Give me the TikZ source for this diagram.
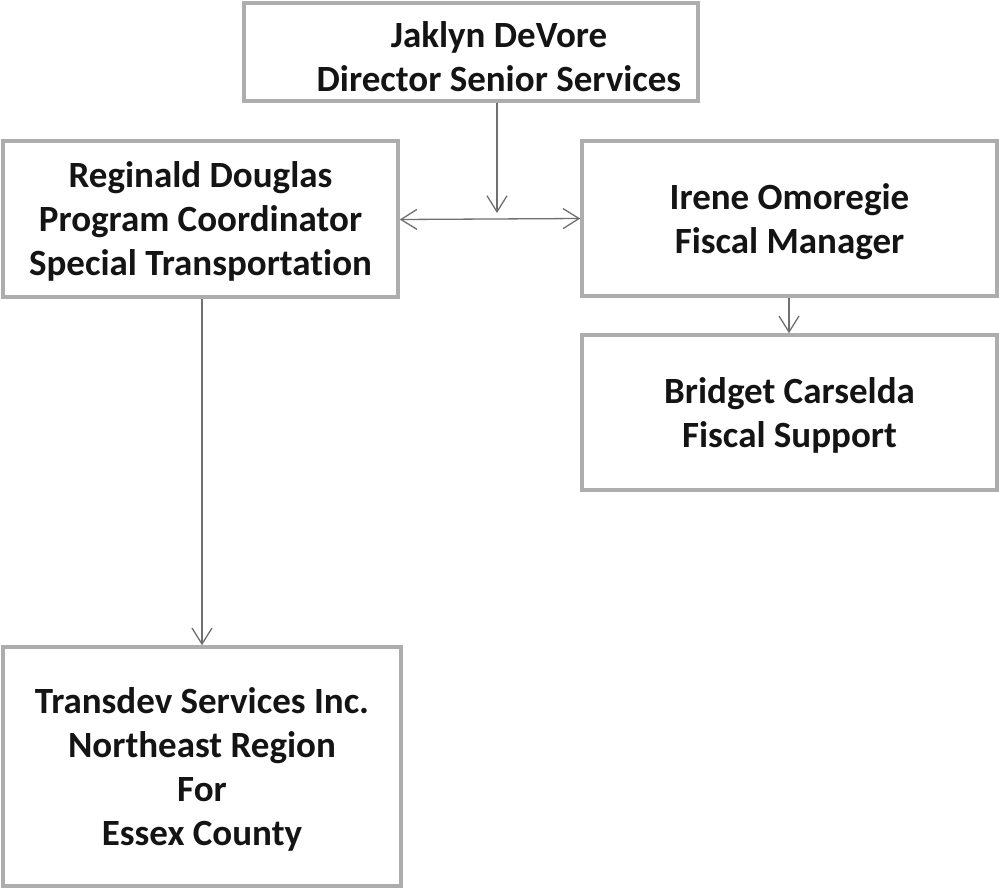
\documentclass[tikz,border=0pt]{standalone}
\usepackage{fontspec}
\setmainfont{Carlito}[Ligatures={NoCommon}]
\usetikzlibrary{arrows.meta}
\definecolor{boxgray}{HTML}{ADADAD}
\definecolor{arrgray}{HTML}{707070}
\definecolor{txt}{HTML}{141414}
\tikzset{
  boxtext/.style={inner sep=0pt, align=center, text=txt, text depth=0pt,
    font=\bfseries\fontsize{37}{44}\selectfont, anchor=center},
  orgbox/.style={boxtext, draw=boxgray, line width=3.5pt, fill=white},
  conn/.style={draw=arrgray, line width=1.3pt, -{Straight Barb[length=16pt,width=20pt,line width=1.3pt]}},
}
\begin{document}
\begin{tikzpicture}[x=1pt,y=-1pt]
\useasboundingbox[fill=white] (0,0) rectangle (999,889);
\node[orgbox, minimum width=454pt, minimum height=98pt] (top) at (471,52) {};
\node[boxtext] (toptxt) at (499,57) {Jaklyn DeVore\\Director Senior Services};
\node[orgbox, minimum width=395pt, minimum height=156pt] (reg) at (200.5,219) {Reginald Douglas\\Program Coordinator\\Special Transportation};
\node[orgbox, minimum width=415pt, minimum height=155pt] (ire) at (789.5,218.5) {Irene Omoregie\\Fiscal Manager};
\node[orgbox, minimum width=415pt, minimum height=155pt] (bri) at (789.5,412.5) {Bridget Carselda\\Fiscal Support};
\node[orgbox, minimum width=398pt, minimum height=239pt] (tra) at (202,766.5) {Transdev Services Inc.\\Northeast Region\\For\\Essex County};
\coordinate (jn) at (497,213);
\draw[conn] (top.south -| jn) -- (jn);
\draw[conn, {Straight Barb[length=16pt,width=20pt,line width=1.3pt]}-{Straight Barb[length=16pt,width=20pt,line width=1.3pt]}] ([yshift=-0.5pt]reg.east) -- ([yshift=0pt]ire.west);
\draw[conn] ([xshift=-0.5pt]ire.south) -- ([xshift=-0.5pt]bri.north);
\draw[conn] ([xshift=1.5pt]reg.south) -- ([xshift=0pt]tra.north);
\end{tikzpicture}
\end{document}
